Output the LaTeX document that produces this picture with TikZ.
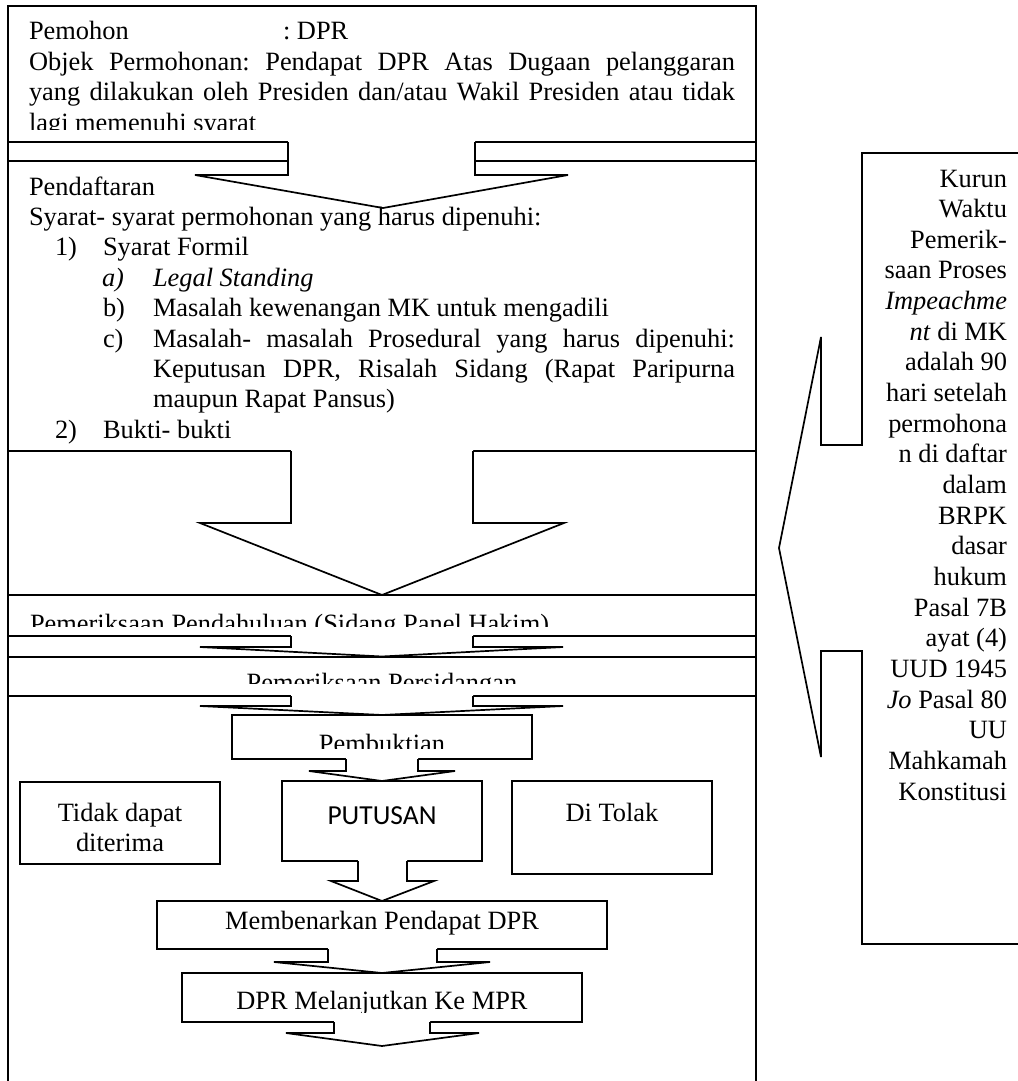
\documentclass[tikz,border=0pt]{standalone}
\usepackage{fontspec}
\setmainfont{Liberation Serif}
\newfontfamily\calibfont{Carlito}
\frenchspacing
\newcommand\barrow[8]{%
  \fill[white] (#1,#3-2) -- (#1,#4) -- (#5,#4) -- (#8,#7) -- (#6,#4) -- (#2,#4) -- (#2,#3-2) -- cycle;
  \draw[ln] (#1,#3) -- (#1,#4) -- (#5,#4) -- (#8,#7) -- (#6,#4) -- (#2,#4) -- (#2,#3);}
\begin{document}
\begin{tikzpicture}[x=1pt,y=-1pt,
  ln/.style={line width=1.7pt},
  txt/.style={inner sep=0pt, outer sep=0pt, font=\fontsize{26.4}{30.4}\selectfont},
  boxst/.style={draw, line width=1.7pt, inner sep=0pt, outer sep=0pt, anchor=north west, fill=white}]
\useasboundingbox (0,0) rectangle (1017,1081);

% main frame
\draw[ln] (8,1090) -- (8,6) -- (756,6) -- (756,1090);
\foreach \yy in {142,161,451,595,636,657,696} \draw[ln] (8,\yy) -- (756,\yy);

% inner boxes
\node[boxst, minimum width=300pt, minimum height=44pt] (pembuktian) at (232,715) {};
\node[boxst, minimum width=200pt, minimum height=80pt] (putusan) at (282,781) {};
\node[boxst, minimum width=200pt, minimum height=82pt] (tidak) at (20,782) {};
\node[boxst, minimum width=200pt, minimum height=93pt] (ditolak) at (512,781) {};
\node[boxst, minimum width=450pt, minimum height=48pt] (membenarkan) at (157,901) {};
\node[boxst, minimum width=400pt, minimum height=49pt] (lanjut) at (182,973) {};

% block arrows
\barrow{288}{475}{142}{175}{195}{568}{208}{383}
\barrow{291}{473}{451}{523}{200}{564}{595}{382}
\barrow{291}{473}{636}{647}{200}{563}{656.5}{382}
\barrow{291}{473}{696}{706}{200}{563}{715}{382}
\barrow{346}{418}{759}{771}{309}{455}{781}{382}
\barrow{358}{407}{861}{881}{331}{434}{901}{382}
\barrow{328}{437}{949}{962}{274}{490}{973}{382}
\barrow{334}{430}{1022}{1033}{286}{479}{1046}{382}

% callout
\draw[ln] (1025,153) -- (862,153) -- (862,445) -- (821,445) -- (821,337) -- (779,548) -- (821,757) -- (821,651) -- (862,651) -- (862,944) -- (1025,944);

% top box text
\begin{scope}
\clip (8,6) rectangle (756,129.5);
\node[txt, anchor=base west] (pemohon) at (29,40) {Pemohon};
\node[txt, anchor=base west] (dpr) at (283,40) {: DPR};
\node[txt, anchor=base west] (objek) at (29,70.4) {\makebox[706pt][s]{Objek Permohonan: Pendapat DPR Atas Dugaan pelanggaran}};
\node[txt, anchor=base west] (yang) at (29,100.8) {\makebox[706pt][s]{yang dilakukan oleh Presiden dan/atau Wakil Presiden atau tidak}};
\node[txt, anchor=base west] (lagi) at (29,131.2) {lagi memenuhi syarat};
\end{scope}

% box 2 text
\node[txt, anchor=base west] (pendaftaran) at (29,195) {Pendaftaran};
\node[txt, anchor=base west] (syarat) at (29,225.4) {Syarat- syarat permohonan yang harus dipenuhi:};
\node[txt, anchor=base west] (n1) at (55,255.8) {1)};
\node[txt, anchor=base west] (formil) at (103,255.8) {Syarat Formil};
\node[txt, anchor=base west] (na) at (102,286.2) {\itshape a)};
\node[txt, anchor=base west] (legal) at (153,286.2) {\itshape Legal Standing};
\node[txt, anchor=base west] (nb) at (103,316.6) {b)};
\node[txt, anchor=base west] (kewenangan) at (153,316.6) {Masalah kewenangan MK untuk mengadili};
\node[txt, anchor=base west] (nc) at (103,347) {c)};
\node[txt, anchor=base west] (prosedural) at (153,347) {\makebox[582pt][s]{Masalah- masalah Prosedural yang harus dipenuhi:}};
\node[txt, anchor=base west] (keputusan) at (153,377.4) {\makebox[582pt][s]{Keputusan DPR, Risalah Sidang (Rapat Paripurna}};
\node[txt, anchor=base west] (maupun) at (153,407.8) {maupun Rapat Pansus)};
\node[txt, anchor=base west] (n2) at (55,438.2) {2)};
\node[txt, anchor=base west] (bukti) at (103,438.2) {Bukti- bukti};

% clipped single-line boxes
\begin{scope}
\clip (8,595) rectangle (756,626.5);
\node[txt, anchor=base west] (pendahuluan) at (30,632) {Pemeriksaan Pendahuluan (Sidang Panel Hakim)};
\end{scope}
\begin{scope}
\clip (8,657) rectangle (756,683);
\node[txt, anchor=base] (persidangan) at (382,691) {Pemeriksaan Persidangan};
\end{scope}
\begin{scope}
\clip (232,715) rectangle (532,748.5);
\node[txt, anchor=base] (tpembuktian) at (382,752.5) {Pembuktian};
\end{scope}
\begin{scope}
\clip (182,973) rectangle (582,1012);
\node[txt, anchor=base] (tlanjut) at (382,1009) {DPR Melanjutkan Ke MPR};
\end{scope}

\node[txt, anchor=base, font=\calibfont\fontsize{27.5}{30}\selectfont] (tputusan) at (382,824) {PUTUSAN};
\node[txt, anchor=base] (ttidak1) at (120,821) {Tidak dapat};
\node[txt, anchor=base] (ttidak2) at (120,851) {diterima};
\node[txt, anchor=base] (ttolak) at (612,821) {Di Tolak};
\node[txt, anchor=base] (tmembenarkan) at (382,929) {Membenarkan Pendapat DPR};

% callout text
\foreach \i/\t in {0/Kurun,1/Waktu,2/Pemerik-,3/saan Proses,4/\textit{Impeachme},5/\textit{nt} di MK,6/adalah 90,7/hari setelah,8/permohona,9/n di daftar,10/dalam,11/BRPK,12/dasar,13/hukum,14/Pasal 7B,15/ayat (4),16/UUD 1945,17/\textit{Jo} Pasal 80,18/UU,19/Mahkamah,20/Konstitusi}
  \node[txt, anchor=base east] (k\i) at (1007,187+30.65*\i) {\t};
\end{tikzpicture}
\end{document}
